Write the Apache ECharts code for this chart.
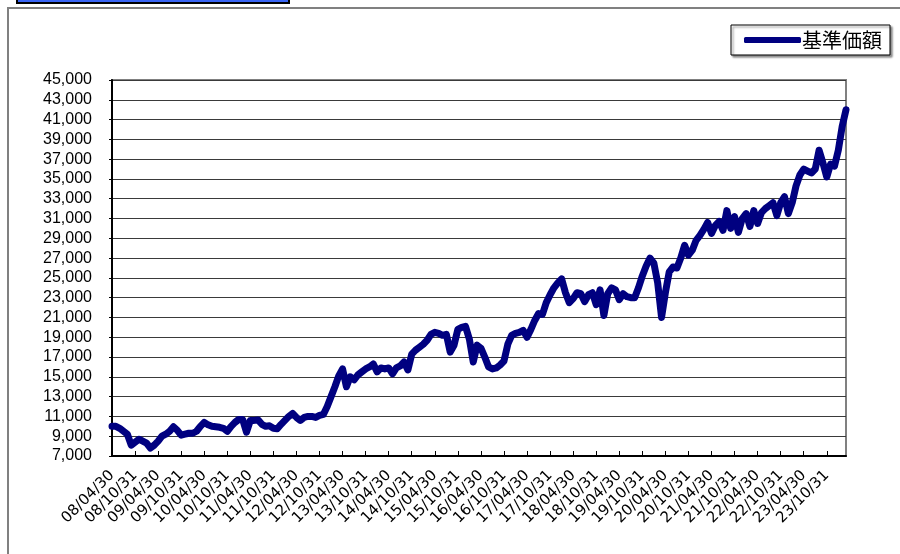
<!DOCTYPE html>
<html>
<head>
<meta charset="utf-8">
<script src="https://cdn.jsdelivr.net/npm/echarts@6/dist/echarts.min.js"></script>
<style>
  html, body { margin: 0; padding: 0; background: #fff; }
  #chart { width: 900px; height: 554px; }
</style>
</head>
<body>
<div id="chart"></div>
<script>
const seriesName = '基準価額'
const startYear = 2008
const startMonth = 4

// monthly values, 2008/04 .. 2024/03 (one row = 12 months from April)
const navValues = [
  10000, 10000, 9800, 9500, 9200, 8100, 8400, 8700, 8500, 8300, 7800, 8100,
  8500, 9000, 9200, 9500, 9950, 9600, 9100, 9200, 9300, 9300, 9500, 10000,
  10400, 10150, 10000, 9950, 9900, 9800, 9500, 10000, 10400, 10700, 10700, 9400,
  10600, 10600, 10650, 10200, 10000, 10050, 9800, 9750, 10200, 10600, 11000, 11300,
  10900, 10600, 10900, 11000, 11000, 10900, 11100, 11200, 12000, 13000, 14000, 15100,
  15800, 14000, 15000, 14700, 15200, 15500, 15800, 16000, 16300, 15500, 15900, 15800,
  15900, 15300, 15900, 16100, 16500, 15700, 17300, 17700, 18000, 18300, 18700, 19300,
  19500, 19400, 19200, 19300, 17500, 18200, 19800, 20000, 20100, 18800, 16500, 18200,
  17900, 17000, 16000, 15800, 15900, 16200, 16600, 18300, 19200, 19400, 19500, 19700,
  19000, 19800, 20700, 21400, 21300, 22500, 23300, 24000, 24500, 24900, 23500, 22500,
  22900, 23500, 23400, 22600, 23300, 23500, 22300, 23800, 21200, 23400, 24000, 23800,
  22800, 23400, 23100, 23000, 23000, 24000, 25200, 26200, 27000, 26500, 24500, 21000,
  23500, 25600, 26100, 26000, 27000, 28300, 27300, 27800, 28800, 29300, 29900, 30600,
  29500, 30300, 30700, 29800, 31800, 30000, 31200, 29600, 31000, 31500, 30200, 31800,
  30500, 31600, 32000, 32300, 32600, 31300, 32600, 33200, 31500, 32600, 34300, 35400,
  36000, 35800, 35600, 36000, 37900, 36600, 35200, 36500, 36300, 37900, 40300, 42000
]

const tickLabels = [
  '08/04/30', '08/10/31', '09/04/30', '09/10/31', '10/04/30', '10/10/31',
  '11/04/30', '11/10/31', '12/04/30', '12/10/31', '13/04/30', '13/10/31',
  '14/04/30', '14/10/31', '15/04/30', '15/10/31', '16/04/30', '16/10/31',
  '17/04/30', '17/10/31', '18/04/30', '18/10/31', '19/04/30', '19/10/31',
  '20/04/30', '20/10/31', '21/04/30', '21/10/31', '22/04/30', '22/10/31',
  '23/04/30', '23/10/31'
]

const months = navValues.map((v, i) => {
  const m = startMonth - 1 + i
  const y = startYear + Math.floor(m / 12)
  return y + '/' + String(m % 12 + 1).padStart(2, '0')
})

const numFont = '"Liberation Sans", Arial, sans-serif'
const chart = echarts.init(document.getElementById('chart'), null, { renderer: 'canvas' })

const option = {
  backgroundColor: '#fff',
  animation: false,
  graphic: [
    {
      // outer chart-area frame
      type: 'rect',
      shape: { x: 8, y: 8, width: 1000, height: 1000 },
      style: { fill: 'none', stroke: '#808080', lineWidth: 2 },
      silent: true
    },
    {
      // title box cut off at the top
      type: 'rect',
      shape: { x: 17, y: -20, width: 272, height: 23 },
      style: { fill: '#3a66f5', stroke: '#000', lineWidth: 2 },
      silent: true
    }
  ],
  legend: {
    left: 731,
    top: 25,
    padding: [5, 8, 5, 13],
    borderColor: '#000',
    borderWidth: 1,
    backgroundColor: '#fff',
    shadowColor: 'rgba(0,0,0,0.45)',
    shadowBlur: 2,
    shadowOffsetX: 2,
    shadowOffsetY: 2,
    icon: 'roundRect',
    itemWidth: 57,
    itemHeight: 6,
    textStyle: {
      fontFamily: '"Noto Sans CJK JP", sans-serif',
      fontSize: 20,
      color: '#000',
      padding: [0, 0, 0, -4]
    },
    data: [seriesName]
  },
  grid: {
    left: 112,
    right: 54,
    top: 80,
    bottom: 98,
    show: true,
    borderColor: '#808080',
    borderWidth: 2
  },
  xAxis: {
    type: 'category',
    boundaryGap: false,
    data: months,
    axisLine: { lineStyle: { color: '#000', width: 2 } },
    axisTick: {
      inside: true,
      length: 5,
      interval: 5,
      lineStyle: { color: '#000' }
    },
    axisLabel: {
      interval: 5,
      rotate: 45,
      margin: 17,
      color: '#000',
      fontFamily: '"DejaVu Sans", sans-serif',
      fontSize: 15,
      formatter: (val, idx) => tickLabels[idx / 6] || ''
    },
    splitLine: { show: false }
  },
  yAxis: {
    type: 'value',
    min: 7000,
    max: 45000,
    interval: 2000,
    axisLine: { show: true, lineStyle: { color: '#000', width: 2 } },
    axisTick: { show: true, length: 3, lineStyle: { color: '#000' } },
    axisLabel: {
      margin: 20,
      color: '#000',
      fontFamily: numFont,
      fontSize: 16,
      formatter: v => v.toLocaleString('en-US')
    },
    splitLine: { lineStyle: { color: '#3a3a3a', width: 1 } }
  },
  series: [
    {
      name: seriesName,
      type: 'line',
      data: navValues,
      showSymbol: false,
      symbol: 'none',
      lineStyle: { color: '#000080', width: 7, cap: 'round', join: 'round' },
      itemStyle: { color: '#000080' }
    }
  ]
}

chart.setOption(option)
</script>
</body>
</html>
